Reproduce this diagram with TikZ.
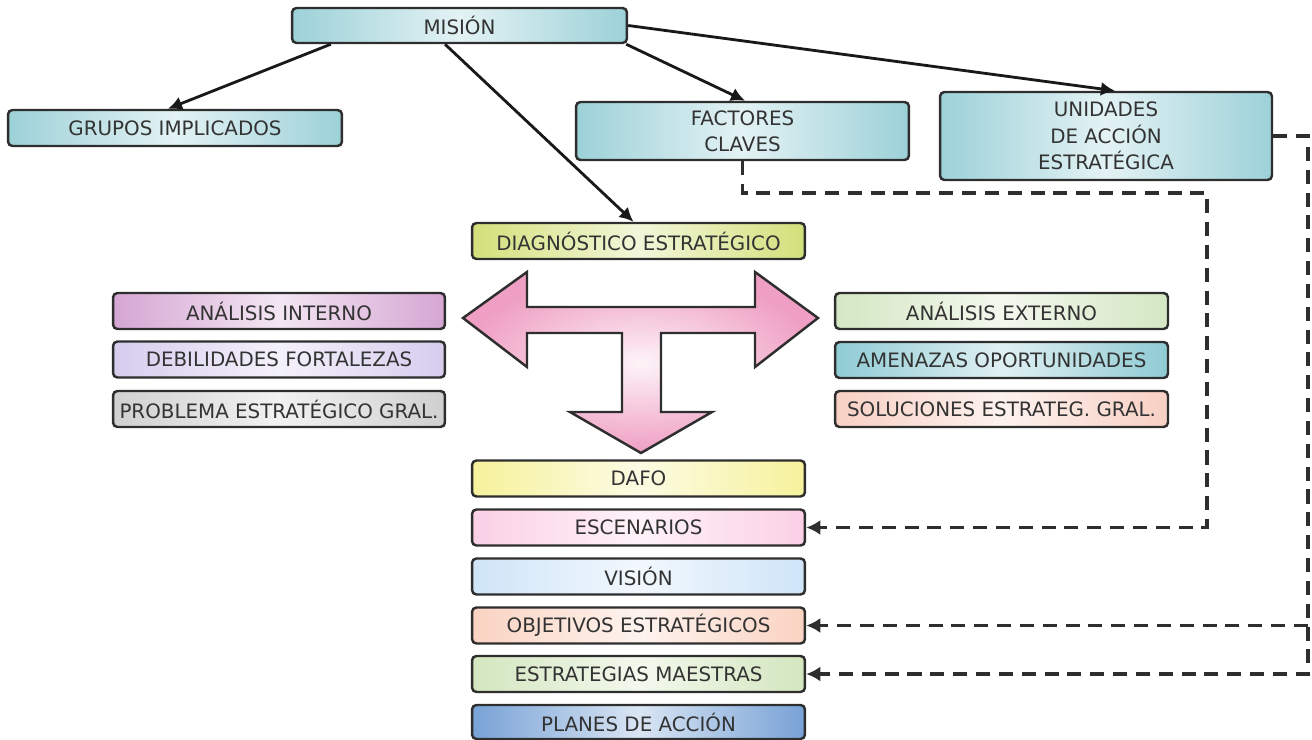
\documentclass[tikz,border=0pt]{standalone}
\usepackage{fontspec}
\setmainfont{DejaVu Sans}
\usetikzlibrary{arrows.meta}

% palette
\definecolor{boxline}{HTML}{2E2E2E}
\definecolor{txt}{HTML}{333333}
\definecolor{cteal}{HTML}{9CD1D8}
\definecolor{cdiag}{HTML}{D2E07A}
\definecolor{cinterno}{HTML}{D5A6D3}
\definecolor{cdebil}{HTML}{D6CDEE}
\definecolor{cproblema}{HTML}{D0D0D0}
\definecolor{cexterno}{HTML}{D4E7C3}
\definecolor{camenazas}{HTML}{8FCBD4}
\definecolor{csoluciones}{HTML}{F8D0C4}
\definecolor{cdafo}{HTML}{F6F29C}
\definecolor{cescen}{HTML}{FBD0E6}
\definecolor{cvision}{HTML}{CFE5F8}
\definecolor{cobjetivos}{HTML}{FAD3C2}
\definecolor{cestrat}{HTML}{D3E6BF}
\definecolor{cplanes}{HTML}{78A2D6}
\definecolor{cpink}{HTML}{EF9FC3}

\tikzset{
  box/.style={draw=boxline, line width=1.4pt, rounded corners=2.5pt,
    minimum width=6.66cm, minimum height=0.72cm, inner sep=0pt,
    text=txt, align=center, font=\fontsize{11.3}{15}\selectfont},
  tint/.style={left color=#1, right color=#1, middle color=#1!28!white},
  link/.style={draw=black!90, line width=1.6pt, -{Latex[length=8pt,width=8pt]}},
  dlink/.style={draw=black!82, line width=1.9pt, dash pattern=on 8pt off 5pt,
    -{Latex[length=8pt,width=8.5pt]}},
}

\begin{document}
\begin{tikzpicture}[x=0.02cm, y=-0.02cm]
\useasboundingbox (0,0) rectangle (1312,740);

% top level
\node[box, tint=cteal, minimum width=6.7cm, minimum height=0.7cm] (mision) at (459.5,25.5) {MISIÓN};
\node[box, tint=cteal, minimum width=6.68cm] (grupos) at (175,128) {GRUPOS IMPLICADOS};
\node[box, tint=cteal, minimum height=1.16cm] (factores) at (742.5,131) {FACTORES\\CLAVES};
\node[box, tint=cteal, minimum width=6.64cm, minimum height=1.76cm] (unidades) at (1106,136) {UNIDADES\\DE ACCIÓN\\ESTRATÉGICA};

% diagnosis
\node[box, tint=cdiag] (diag) at (638.5,241) {DIAGNÓSTICO ESTRATÉGICO};

% internal analysis
\node[box, tint=cinterno, minimum width=6.64cm] (interno) at (279,311) {ANÁLISIS INTERNO};
\node[box, tint=cdebil, minimum width=6.64cm] (debil) at (279,359.5) {DEBILIDADES FORTALEZAS};
\node[box, tint=cproblema, minimum width=6.64cm] (problema) at (279,409) {PROBLEMA ESTRATÉGICO GRAL.};

% external analysis
\node[box, tint=cexterno] (externo) at (1001.5,311) {ANÁLISIS EXTERNO};
\node[box, tint=camenazas] (amenazas) at (1001.5,360) {AMENAZAS OPORTUNIDADES};
\node[box, tint=csoluciones] (soluciones) at (1001.5,409) {SOLUCIONES ESTRATEG. GRAL.};

% planning chain
\node[box, tint=cdafo] (dafo) at (638.5,478.5) {DAFO};
\node[box, tint=cescen] (escenarios) at (638.5,527.5) {ESCENARIOS};
\node[box, tint=cvision] (vision) at (638.5,576.5) {VISIÓN};
\node[box, tint=cobjetivos] (objetivos) at (638.5,625.5) {OBJETIVOS ESTRATÉGICOS};
\node[box, tint=cestrat] (estrategias) at (638.5,674) {ESTRATEGIAS MAESTRAS};
\node[box, tint=cplanes, minimum height=0.68cm] (planes) at (638.5,722) {PLANES DE ACCIÓN};

% T-shaped arrow
\draw[line width=1.4pt, draw=boxline, inner color=cpink!12!white, outer color=cpink, line join=miter]
  (463,318) -- (527,272) -- (527,307) -- (755,307) -- (755,272) -- (818,318)
  -- (755,367) -- (755,333) -- (661,333) -- (661,412) -- (712,412) -- (641,453)
  -- (570,412) -- (622,412) -- (622,333) -- (527,333) -- (527,367) -- cycle;

% solid connectors from the mission
\draw[link] ([xshift=0.8cm]mision.south west) -- ([xshift=-0.14cm]grupos.north);
\draw[link] ([xshift=-0.29cm]mision.south) -- ([xshift=-0.1cm]diag.north);
\draw[link] ([xshift=-0.04cm]mision.south east) -- ([xshift=0.05cm]factores.north);
\draw[link] (mision.east) -- ([xshift=0.18cm]unidades.north);

% dashed feedback lines
\coordinate (fk) at (1207,193);
\coordinate (uk) at (1308,674);
\draw[dlink] (factores.south) |- (fk) |- (escenarios.east);
\draw[dlink] (unidades.east) -| (uk) -- (estrategias.east);
\draw[dlink] (uk |- objetivos.east) -- (objetivos.east);
\end{tikzpicture}
\end{document}
